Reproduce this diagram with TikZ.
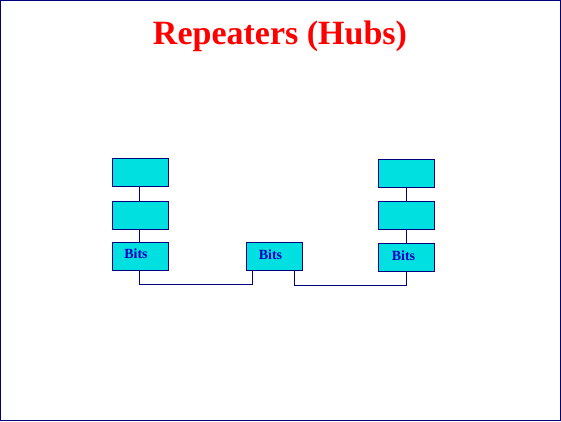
\documentclass[tikz,border=0pt]{standalone}
\usepackage{fontspec}
\setmainfont{Liberation Serif}
\definecolor{boxfill}{RGB}{0,224,224}
\definecolor{navy}{RGB}{0,0,128}
\definecolor{textblue}{RGB}{0,0,192}
\definecolor{titlered}{RGB}{255,0,0}
\begin{document}
\begin{tikzpicture}[x=1pt,y=-1pt,
  unit/.style={draw=navy,fill=boxfill,line width=1pt,minimum width=56pt,minimum height=28pt,inner sep=0pt,anchor=north west},
  bitlabel/.style={text=textblue,font=\bfseries\fontsize{14}{16}\selectfont,inner sep=0pt},
  wire/.style={draw=navy,line width=1pt}]
\useasboundingbox (0,0) rectangle (561,421);
\draw[navy,line width=1pt] (0.5,0.5) rectangle (560.5,420.5);
\node[text=titlered,font=\bfseries\fontsize{34}{38}\selectfont,inner sep=0pt,anchor=base] (title) at (280,44) {Repeaters (Hubs)};
% left stack
\node[unit] (l1) at (112,158) {};
\node[unit] (l2) at (112,201) {};
\node[unit] (l3) at (112,242) {};
% middle
\node[unit] (m) at (246,242) {};
% right stack
\node[unit] (r1) at (378,159) {};
\node[unit] (r2) at (378,201) {};
\node[unit] (r3) at (378,243) {};
\node[bitlabel] (lt) at (136,254) {Bits};
\node[bitlabel] (mt) at (270.5,255) {Bits};
\node[bitlabel] (rt) at (403.5,256) {Bits};
% connectors
\draw[wire] (l1.south -| 139,0) -- (l2.north -| 139,0);
\draw[wire] (l2.south -| 139,0) -- (l3.north -| 139,0);
\draw[wire] (r1.south -| 406,0) -- (r2.north -| 406,0);
\draw[wire] (r2.south -| 406,0) -- (r3.north -| 406,0);
\coordinate (c1) at (139,284);
\coordinate (c2) at (252,284);
\coordinate (c3) at (294,285);
\coordinate (c4) at (406,285);
\draw[wire] (l3.south -| c1) -- (c1) -- (c2) -- (m.south -| c2);
\draw[wire] (m.south -| c3) -- (c3) -- (c4) -- (r3.south -| c4);
\end{tikzpicture}
\end{document}
